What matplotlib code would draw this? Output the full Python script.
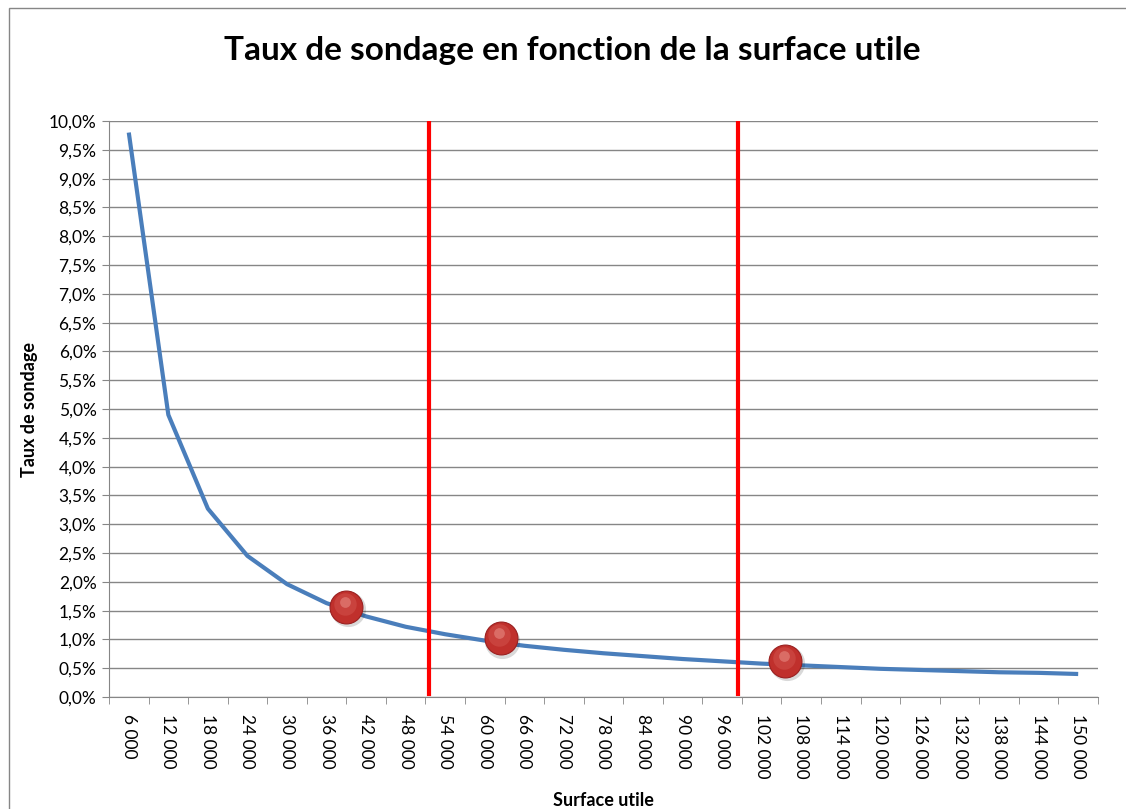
import numpy as np
import matplotlib.pyplot as plt
from matplotlib.patches import Rectangle

plt.rcParams['font.family'] = ['Lato', 'DejaVu Sans']

# surface utile categories and sampling rate (%)
surfaces = [6000 * (i + 1) for i in range(25)]
taux = [9.80, 4.90, 3.27, 2.45, 1.96, 1.63, 1.40, 1.22, 1.09, 0.98,
        0.89, 0.82, 0.76, 0.71, 0.66, 0.62, 0.58, 0.55, 0.52, 0.49,
        0.47, 0.45, 0.43, 0.42, 0.40]
x_labels = ["{:,}".format(s).replace(",", " ") for s in surfaces]

# highlighted points (category position, rate %)
pts_x = [5.5, 9.4, 16.6]
pts_y = [1.56, 1.02, 0.63]

# red threshold lines (category position)
seuils_x = [7.6, 15.4]

fig = plt.figure(figsize=(11.26, 8.09), dpi=100)
ax = fig.add_axes([0.0968, 0.1384, 0.9751 - 0.0968, 0.8504 - 0.1384])

xs = np.arange(len(taux))
ax.plot(xs, taux, color="#4a7ebb", lw=3, solid_capstyle="butt", zorder=3)

for sx in seuils_x:
    ax.plot([sx, sx], [0.05, 10.0], color="#ff0000", lw=3, zorder=4)

# shadow, ball, soft highlight
ax.scatter(np.array(pts_x) + 0.04, np.array(pts_y) - 0.04, s=640, color="#000000", alpha=0.15, zorder=4, lw=0)
ax.scatter(pts_x, pts_y, s=560, color="#c0302c", edgecolor="#9a2020", lw=0.8, zorder=5)
ax.scatter(np.array(pts_x) - 0.03, np.array(pts_y) + 0.05, s=260, color="#d65a52", alpha=0.45, zorder=6, lw=0)
ax.scatter(np.array(pts_x) - 0.03, np.array(pts_y) + 0.09, s=60, color="#f0a098", alpha=0.45, zorder=6, lw=0)

ax.set_xlim(-0.5, len(taux) - 0.5)
ax.set_ylim(0, 10)
ax.set_yticks(np.arange(0, 10.01, 0.5))
ax.set_yticklabels(["{:.1f}%".format(v).replace(".", ",") for v in np.arange(0, 10.01, 0.5)], fontsize=12.5)
ax.set_xticks(xs)
ax.set_xticklabels(x_labels, rotation=270, fontsize=12.5)
ax.set_xticks(np.arange(-0.5, len(taux)), minor=True)
ax.tick_params(axis="x", which="major", length=0, pad=12)
ax.tick_params(axis="x", which="minor", length=5, color="#868686")
ax.tick_params(axis="y", length=5, color="#868686", pad=4)

ax.grid(axis="y", color="#868686", lw=1)
ax.set_axisbelow(True)
for s in ["top", "right"]:
    ax.spines[s].set_visible(False)
for s in ["left", "bottom"]:
    ax.spines[s].set_color("#868686")

ax.set_xlabel("Surface utile", fontsize=13, fontweight="bold", labelpad=10)
ax.set_ylabel("Taux de sondage", fontsize=13, fontweight="bold", labelpad=8)
fig.text(0.508, 0.937, "Taux de sondage en fonction de la surface utile",
         ha="center", va="center", fontsize=24, fontweight="bold")

fig.patches.append(Rectangle((0.008, -0.01), 1.2, 1.0, transform=fig.transFigure,
                             fill=False, edgecolor="#868686", lw=1))

fig.savefig("out.png", dpi=100)
